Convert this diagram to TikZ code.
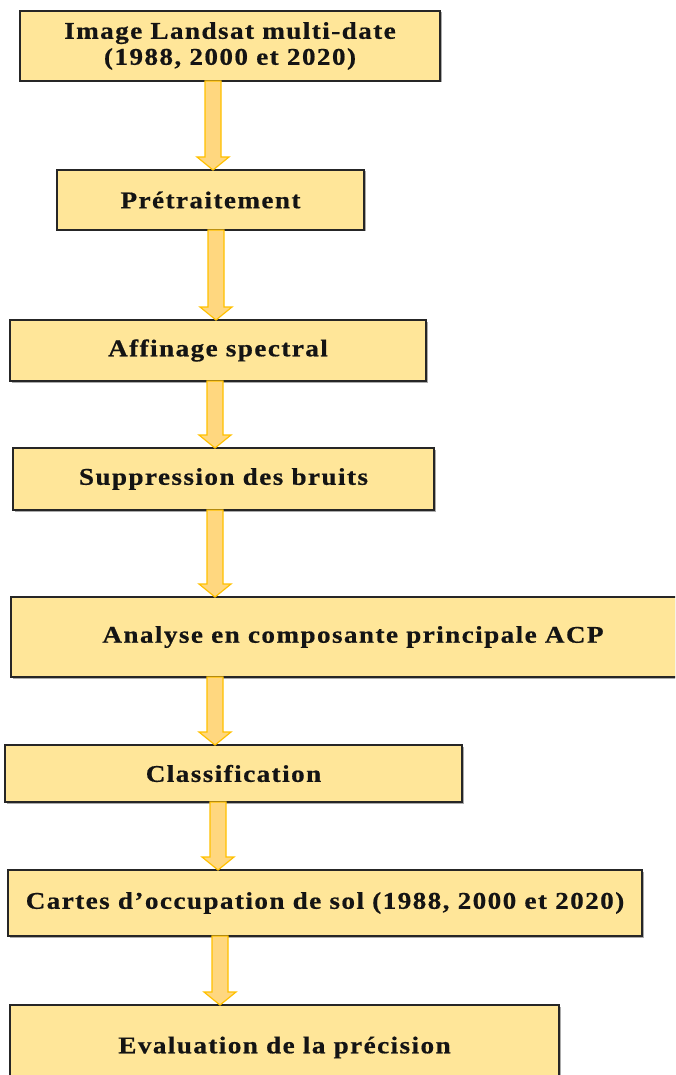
\documentclass[tikz,border=0pt]{standalone}
\usepackage{fontspec}
\setmainfont{Liberation Serif}[FakeStretch=1.13, LetterSpace=6, FakeBold=0.6]
\usetikzlibrary{calc,shadows}
\definecolor{boxfill}{HTML}{FFE699}
\definecolor{boxline}{HTML}{262626}
\definecolor{arrowfill}{HTML}{FFD77F}
\definecolor{arrowline}{HTML}{FFC000}
\tikzset{
  stepbox/.style={draw=boxline, fill=boxfill, line width=1.5pt, rectangle,
    inner sep=0pt, outer sep=0pt, align=center,
    font=\fontsize{24}{26}\selectfont\bfseries, text=black!92,
    drop shadow={shadow xshift=1.5pt, shadow yshift=-1.5pt, fill=black!55, opacity=0.6}},
  fatarrow/.style={draw=arrowline, fill=arrowfill, line width=1.2pt, line join=miter}
}
% #1 = x position (pt), #2 = from node, #3 = to node
\newcommand\bigarrow[3]{%
  \path[fatarrow] let \p1=(#2.south), \p2=(#3.north) in
    ({#1pt-8pt},\y1) -- ({#1pt+8pt},\y1) -- ({#1pt+8pt},{\y2+13pt}) --
    ({#1pt+16pt},{\y2+13pt}) -- (#1pt,\y2) -- ({#1pt-16pt},{\y2+13pt}) --
    ({#1pt-8pt},{\y2+13pt}) -- cycle;}
\begin{document}
\begin{tikzpicture}[x=1pt,y=-1pt]
\useasboundingbox (0,0) rectangle (675,1075);
\clip (0,0) rectangle (675,1075);
\node[stepbox, minimum width=420pt, minimum height=70pt] (n1) at (230,46)
  {Image Landsat multi-date\\(1988, 2000 et 2020)};
\node[stepbox, minimum width=307pt, minimum height=60pt] (n2) at (210.5,200) {Prétraitement};
\node[stepbox, minimum width=416pt, minimum height=61pt] (n3) at (218,350.5) {Affinage spectral};
\node[stepbox, minimum width=421pt, minimum height=62pt] (n4) at (223.5,479) {Suppression des bruits};
\node[stepbox, minimum width=684pt, minimum height=80pt] (n5) at (353,637) {Analyse en composante principale ACP};
\node[stepbox, minimum width=457pt, minimum height=57pt] (n6) at (233.5,773.5) {Classification};
\node[stepbox, minimum width=634pt, minimum height=66pt] (n7) at (325,903) {Cartes d’occupation de sol (1988, 2000 et 2020)};
\node[stepbox, minimum width=549pt, minimum height=85pt] (n8) at (284.5,1047.5) {Evaluation de la précision};
\bigarrow{213}{n1}{n2}
\bigarrow{216}{n2}{n3}
\bigarrow{215}{n3}{n4}
\bigarrow{215}{n4}{n5}
\bigarrow{215}{n5}{n6}
\bigarrow{218}{n6}{n7}
\bigarrow{220}{n7}{n8}
\end{tikzpicture}
\end{document}
